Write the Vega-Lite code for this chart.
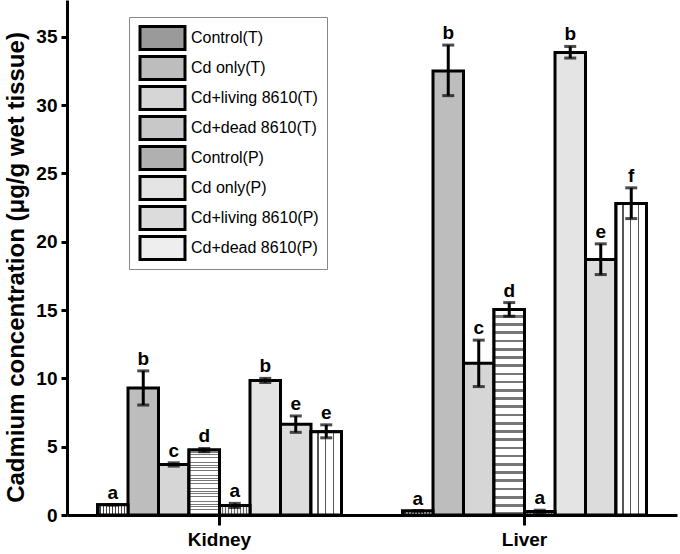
{
  "$schema": "https://vega.github.io/schema/vega-lite/v6.json",
  "width": 610,
  "height": 515,
  "autosize": "none",
  "padding": {"left": 67, "top": 0, "right": 3, "bottom": 39},
  "background": "white",
  "config": {
    "view": {"stroke": null},
    "font": "Liberation Sans",
    "axis": {
      "domainColor": "black", "domainWidth": 3, "tickColor": "black", "tickWidth": 3,
      "labelColor": "black", "labelFont": "Liberation Sans", "labelFontWeight": "bold",
      "titleColor": "black", "titleFont": "Liberation Sans", "titleFontWeight": "bold", "grid": false
    }
  },
  "data": {"values": [
    {"organ": "Kidney", "group": "Control(T)", "value": 0.75, "lo": 0.75, "hi": 0.75, "sig": "a"},
    {"organ": "Kidney", "group": "Cd only(T)", "value": 9.3, "lo": 8.05, "hi": 10.55, "sig": "b"},
    {"organ": "Kidney", "group": "Cd+living 8610(T)", "value": 3.7, "lo": 3.58, "hi": 3.82, "sig": "c"},
    {"organ": "Kidney", "group": "Cd+dead 8610(T)", "value": 4.75, "lo": 4.63, "hi": 4.87, "sig": "d"},
    {"organ": "Kidney", "group": "Control(P)", "value": 0.7, "lo": 0.55, "hi": 0.85, "sig": "a"},
    {"organ": "Kidney", "group": "Cd only(P)", "value": 9.85, "lo": 9.7, "hi": 10.0, "sig": "b"},
    {"organ": "Kidney", "group": "Cd+living 8610(P)", "value": 6.65, "lo": 6.05, "hi": 7.25, "sig": "e"},
    {"organ": "Kidney", "group": "Cd+dead 8610(P)", "value": 6.1, "lo": 5.65, "hi": 6.6, "sig": "e"},
    {"organ": "Liver", "group": "Control(T)", "value": 0.3, "lo": 0.3, "hi": 0.3, "sig": "a"},
    {"organ": "Liver", "group": "Cd only(T)", "value": 32.5, "lo": 30.7, "hi": 34.4, "sig": "b"},
    {"organ": "Liver", "group": "Cd+living 8610(T)", "value": 11.1, "lo": 9.4, "hi": 12.8, "sig": "c"},
    {"organ": "Liver", "group": "Cd+dead 8610(T)", "value": 15.05, "lo": 14.55, "hi": 15.55, "sig": "d"},
    {"organ": "Liver", "group": "Control(P)", "value": 0.25, "lo": 0.15, "hi": 0.35, "sig": "a"},
    {"organ": "Liver", "group": "Cd only(P)", "value": 33.85, "lo": 33.45, "hi": 34.3, "sig": "b"},
    {"organ": "Liver", "group": "Cd+living 8610(P)", "value": 18.7, "lo": 17.6, "hi": 19.85, "sig": "e"},
    {"organ": "Liver", "group": "Cd+dead 8610(P)", "value": 22.8, "lo": 21.7, "hi": 23.95, "sig": "f"}
  ]},
  "encoding": {
    "x": {
      "field": "organ", "type": "nominal", "sort": ["Kidney", "Liver"],
      "scale": {"paddingInner": 0.2, "paddingOuter": 0.1},
      "axis": {"title": null, "labelAngle": 0, "labelFontSize": 19, "tickSize": 10, "labelPadding": 5}
    },
    "xOffset": {
      "field": "group", "type": "nominal",
      "sort": ["Control(T)", "Cd only(T)", "Cd+living 8610(T)", "Cd+dead 8610(T)", "Control(P)", "Cd only(P)", "Cd+living 8610(P)", "Cd+dead 8610(P)"],
      "scale": {"paddingInner": 0, "paddingOuter": 0}
    }
  },
  "layer": [
    {
      "mark": {"type": "bar", "stroke": "black", "strokeWidth": 3, "fillOpacity": 1},
      "encoding": {
        "y": {
          "field": "value", "type": "quantitative",
          "scale": {"domain": [0, 37.7], "nice": false, "zero": true},
          "axis": {
            "title": "Cadmium concentration (μg/g wet tissue)",
            "titleFontSize": 24, "titleX": -51, "titleY": 267, "titleAnchor": "middle", "titleBaseline": "middle", "titleAngle": -90,
            "values": [0, 2.5, 5, 7.5, 10, 12.5, 15, 17.5, 20, 22.5, 25, 27.5, 30, 32.5, 35],
            "labelExpr": "datum.value % 5 === 0 ? datum.label : ''",
            "labelFontSize": 19, "tickSize": 6, "labelPadding": 4
          }
        },
        "fill": {
          "field": "group", "type": "nominal",
          "sort": ["Control(T)", "Cd only(T)", "Cd+living 8610(T)", "Cd+dead 8610(T)", "Control(P)", "Cd only(P)", "Cd+living 8610(P)", "Cd+dead 8610(P)"],
          "scale": {"range": ["#9a9a9a", "#bdbdbd", "#d6d6d6", "#c8c8c8", "#b0b0b0", "#e4e4e4", "#dcdcdc", "#eeeeee"]},
          "legend": {
            "title": null, "orient": "none", "legendX": 62, "legendY": 17,
            "padding": 8, "strokeColor": "#888", "fillColor": "white",
            "symbolType": "M-1.73,-0.885H1.73V0.885H-1.73Z", "symbolSize": 676, "symbolOffset": 11,
            "symbolStrokeColor": "black", "symbolStrokeWidth": 3, "symbolOpacity": 1,
            "labelFont": "Liberation Sans", "labelFontSize": 16, "labelColor": "black", "labelOffset": 14,
            "clipHeight": 26, "rowPadding": 4, "labelLimit": 300
          }
        }
      }
    },
    {
      "transform": [{"filter": "datum.group === 'Control(T)'"}],
      "mark": {"type": "bar", "stroke": "black", "strokeWidth": 3, "fill": {"gradient": "linear", "x1": 0, "y1": 0, "x2": 1, "y2": 0, "stops": [
              {"offset": 0, "color": "white"}, {"offset": 0.065, "color": "white"}, {"offset": 0.065, "color": "#444"}, {"offset": 0.1, "color": "#444"},
              {"offset": 0.1, "color": "white"}, {"offset": 0.165, "color": "white"}, {"offset": 0.165, "color": "#444"}, {"offset": 0.2, "color": "#444"},
              {"offset": 0.2, "color": "white"}, {"offset": 0.265, "color": "white"}, {"offset": 0.265, "color": "#444"}, {"offset": 0.3, "color": "#444"},
              {"offset": 0.3, "color": "white"}, {"offset": 0.365, "color": "white"}, {"offset": 0.365, "color": "#444"}, {"offset": 0.4, "color": "#444"},
              {"offset": 0.4, "color": "white"}, {"offset": 0.465, "color": "white"}, {"offset": 0.465, "color": "#444"}, {"offset": 0.5, "color": "#444"},
              {"offset": 0.5, "color": "white"}, {"offset": 0.565, "color": "white"}, {"offset": 0.565, "color": "#444"}, {"offset": 0.6, "color": "#444"},
              {"offset": 0.6, "color": "white"}, {"offset": 0.665, "color": "white"}, {"offset": 0.665, "color": "#444"}, {"offset": 0.7, "color": "#444"},
              {"offset": 0.7, "color": "white"}, {"offset": 0.765, "color": "white"}, {"offset": 0.765, "color": "#444"}, {"offset": 0.8, "color": "#444"},
              {"offset": 0.8, "color": "white"}, {"offset": 0.865, "color": "white"}, {"offset": 0.865, "color": "#444"}, {"offset": 0.9, "color": "#444"},
              {"offset": 0.9, "color": "white"}, {"offset": 0.965, "color": "white"}, {"offset": 0.965, "color": "#444"}, {"offset": 1, "color": "#444"}
            ]}},
      "encoding": {"y": {"field": "value", "type": "quantitative"}}
    },
    {
      "transform": [{"filter": "datum.group === 'Cd+dead 8610(T)'"}],
      "mark": {"type": "bar", "stroke": "black", "strokeWidth": 3, "fill": {"gradient": "linear", "x1": 0, "y1": 0, "x2": 0, "y2": 1, "stops": [
              {"offset": 0, "color": "white"}, {"offset": 0.027, "color": "white"}, {"offset": 0.027, "color": "#777"}, {"offset": 0.04, "color": "#777"},
              {"offset": 0.04, "color": "white"}, {"offset": 0.067, "color": "white"}, {"offset": 0.067, "color": "#777"}, {"offset": 0.08, "color": "#777"},
              {"offset": 0.08, "color": "white"}, {"offset": 0.107, "color": "white"}, {"offset": 0.107, "color": "#777"}, {"offset": 0.12, "color": "#777"},
              {"offset": 0.12, "color": "white"}, {"offset": 0.147, "color": "white"}, {"offset": 0.147, "color": "#777"}, {"offset": 0.16, "color": "#777"},
              {"offset": 0.16, "color": "white"}, {"offset": 0.187, "color": "white"}, {"offset": 0.187, "color": "#777"}, {"offset": 0.2, "color": "#777"},
              {"offset": 0.2, "color": "white"}, {"offset": 0.227, "color": "white"}, {"offset": 0.227, "color": "#777"}, {"offset": 0.24, "color": "#777"},
              {"offset": 0.24, "color": "white"}, {"offset": 0.267, "color": "white"}, {"offset": 0.267, "color": "#777"}, {"offset": 0.28, "color": "#777"},
              {"offset": 0.28, "color": "white"}, {"offset": 0.307, "color": "white"}, {"offset": 0.307, "color": "#777"}, {"offset": 0.32, "color": "#777"},
              {"offset": 0.32, "color": "white"}, {"offset": 0.347, "color": "white"}, {"offset": 0.347, "color": "#777"}, {"offset": 0.36, "color": "#777"},
              {"offset": 0.36, "color": "white"}, {"offset": 0.387, "color": "white"}, {"offset": 0.387, "color": "#777"}, {"offset": 0.4, "color": "#777"},
              {"offset": 0.4, "color": "white"}, {"offset": 0.427, "color": "white"}, {"offset": 0.427, "color": "#777"}, {"offset": 0.44, "color": "#777"},
              {"offset": 0.44, "color": "white"}, {"offset": 0.467, "color": "white"}, {"offset": 0.467, "color": "#777"}, {"offset": 0.48, "color": "#777"},
              {"offset": 0.48, "color": "white"}, {"offset": 0.507, "color": "white"}, {"offset": 0.507, "color": "#777"}, {"offset": 0.52, "color": "#777"},
              {"offset": 0.52, "color": "white"}, {"offset": 0.547, "color": "white"}, {"offset": 0.547, "color": "#777"}, {"offset": 0.56, "color": "#777"},
              {"offset": 0.56, "color": "white"}, {"offset": 0.587, "color": "white"}, {"offset": 0.587, "color": "#777"}, {"offset": 0.6, "color": "#777"},
              {"offset": 0.6, "color": "white"}, {"offset": 0.627, "color": "white"}, {"offset": 0.627, "color": "#777"}, {"offset": 0.64, "color": "#777"},
              {"offset": 0.64, "color": "white"}, {"offset": 0.667, "color": "white"}, {"offset": 0.667, "color": "#777"}, {"offset": 0.68, "color": "#777"},
              {"offset": 0.68, "color": "white"}, {"offset": 0.707, "color": "white"}, {"offset": 0.707, "color": "#777"}, {"offset": 0.72, "color": "#777"},
              {"offset": 0.72, "color": "white"}, {"offset": 0.747, "color": "white"}, {"offset": 0.747, "color": "#777"}, {"offset": 0.76, "color": "#777"},
              {"offset": 0.76, "color": "white"}, {"offset": 0.787, "color": "white"}, {"offset": 0.787, "color": "#777"}, {"offset": 0.8, "color": "#777"},
              {"offset": 0.8, "color": "white"}, {"offset": 0.827, "color": "white"}, {"offset": 0.827, "color": "#777"}, {"offset": 0.84, "color": "#777"},
              {"offset": 0.84, "color": "white"}, {"offset": 0.867, "color": "white"}, {"offset": 0.867, "color": "#777"}, {"offset": 0.88, "color": "#777"},
              {"offset": 0.88, "color": "white"}, {"offset": 0.907, "color": "white"}, {"offset": 0.907, "color": "#777"}, {"offset": 0.92, "color": "#777"},
              {"offset": 0.92, "color": "white"}, {"offset": 0.947, "color": "white"}, {"offset": 0.947, "color": "#777"}, {"offset": 0.96, "color": "#777"},
              {"offset": 0.96, "color": "white"}, {"offset": 0.987, "color": "white"}, {"offset": 0.987, "color": "#777"}, {"offset": 1, "color": "#777"}
            ]}},
      "encoding": {"y": {"field": "value", "type": "quantitative"}}
    },
    {
      "transform": [{"filter": "datum.group === 'Control(P)'"}],
      "mark": {"type": "bar", "stroke": "black", "strokeWidth": 3, "fill": {"gradient": "linear", "x1": 0, "y1": 0, "x2": 1, "y2": 0, "stops": [
              {"offset": 0, "color": "#eee"}, {"offset": 0.07, "color": "#eee"}, {"offset": 0.07, "color": "#666"}, {"offset": 0.1, "color": "#666"},
              {"offset": 0.1, "color": "#eee"}, {"offset": 0.17, "color": "#eee"}, {"offset": 0.17, "color": "#666"}, {"offset": 0.2, "color": "#666"},
              {"offset": 0.2, "color": "#eee"}, {"offset": 0.27, "color": "#eee"}, {"offset": 0.27, "color": "#666"}, {"offset": 0.3, "color": "#666"},
              {"offset": 0.3, "color": "#eee"}, {"offset": 0.37, "color": "#eee"}, {"offset": 0.37, "color": "#666"}, {"offset": 0.4, "color": "#666"},
              {"offset": 0.4, "color": "#eee"}, {"offset": 0.47, "color": "#eee"}, {"offset": 0.47, "color": "#666"}, {"offset": 0.5, "color": "#666"},
              {"offset": 0.5, "color": "#eee"}, {"offset": 0.57, "color": "#eee"}, {"offset": 0.57, "color": "#666"}, {"offset": 0.6, "color": "#666"},
              {"offset": 0.6, "color": "#eee"}, {"offset": 0.67, "color": "#eee"}, {"offset": 0.67, "color": "#666"}, {"offset": 0.7, "color": "#666"},
              {"offset": 0.7, "color": "#eee"}, {"offset": 0.77, "color": "#eee"}, {"offset": 0.77, "color": "#666"}, {"offset": 0.8, "color": "#666"},
              {"offset": 0.8, "color": "#eee"}, {"offset": 0.87, "color": "#eee"}, {"offset": 0.87, "color": "#666"}, {"offset": 0.9, "color": "#666"},
              {"offset": 0.9, "color": "#eee"}, {"offset": 0.97, "color": "#eee"}, {"offset": 0.97, "color": "#666"}, {"offset": 1, "color": "#666"}
            ]}},
      "encoding": {"y": {"field": "value", "type": "quantitative"}}
    },
    {
      "transform": [{"filter": "datum.group === 'Cd+dead 8610(P)'"}],
      "mark": {"type": "bar", "stroke": "black", "strokeWidth": 3, "fill": {"gradient": "linear", "x1": 0, "y1": 0, "x2": 1, "y2": 0, "stops": [
              {"offset": 0, "color": "white"}, {"offset": 0.21, "color": "white"}, {"offset": 0.21, "color": "#555"}, {"offset": 0.25, "color": "#555"},
              {"offset": 0.25, "color": "white"}, {"offset": 0.46, "color": "white"}, {"offset": 0.46, "color": "#555"}, {"offset": 0.5, "color": "#555"},
              {"offset": 0.5, "color": "white"}, {"offset": 0.71, "color": "white"}, {"offset": 0.71, "color": "#555"}, {"offset": 0.75, "color": "#555"},
              {"offset": 0.75, "color": "white"}, {"offset": 1, "color": "white"}
            ]}},
      "encoding": {"y": {"field": "value", "type": "quantitative"}}
    },
    {
      "mark": {"type": "rule", "color": "black", "strokeWidth": 3},
      "encoding": {"y": {"field": "lo", "type": "quantitative"}, "y2": {"field": "hi"}}
    },
    {
      "mark": {"type": "tick", "color": "black", "thickness": 3, "size": 12, "orient": "horizontal"},
      "encoding": {"y": {"field": "lo", "type": "quantitative"}}
    },
    {
      "mark": {"type": "tick", "color": "black", "thickness": 3, "size": 12, "orient": "horizontal"},
      "encoding": {"y": {"field": "hi", "type": "quantitative"}}
    },
    {
      "mark": {"type": "text", "fontSize": 19, "fontWeight": "bold", "color": "black", "baseline": "alphabetic", "dy": -6, "font": "Liberation Sans"},
      "encoding": {"y": {"field": "hi", "type": "quantitative"}, "text": {"field": "sig"}}
    }
  ]
}
